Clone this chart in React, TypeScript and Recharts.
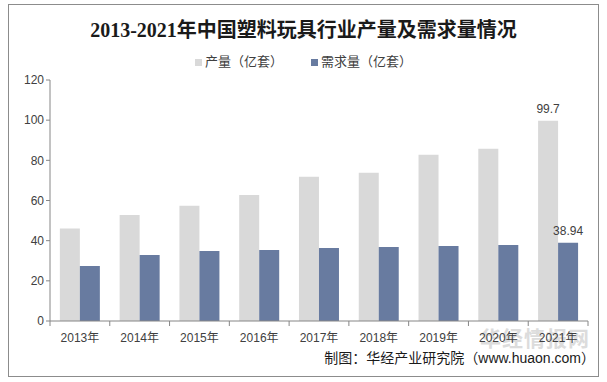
import React from 'react';
import { BarChart, Bar, XAxis, YAxis, LabelList } from 'recharts';

const years = ['2013年', '2014年', '2015年', '2016年', '2017年', '2018年', '2019年', '2020年', '2021年'];
const output = [46, 52.8, 57.4, 62.8, 71.8, 73.8, 82.8, 85.8, 99.7];
const demand = [27.4, 32.9, 34.9, 35.4, 36.4, 36.9, 37.4, 37.9, 38.94];
const yTicks = [0, 20, 40, 60, 80, 100, 120];

const data = years.map((year, i) => ({ year, output: output[i], demand: demand[i] }));

const W = 607;
const H = 382;
const margin = { top: 80, right: 19, bottom: 31, left: 10 };
const band = (W - margin.left - 40 - margin.right) / years.length;
const axisColor = '#868686';
const textColor = '#404040';
const sans = '"Liberation Sans", Arial, "Noto Sans CJK SC", sans-serif';

const XTick = (props: any) => {
  const { x, y, payload, index } = props;
  const left = x - band / 2;
  return (
    <g>
      <line x1={left} y1={y - 8} x2={left} y2={y - 3} stroke={axisColor} />
      {index === years.length - 1 && (
        <line x1={x + band / 2} y1={y - 8} x2={x + band / 2} y2={y - 3} stroke={axisColor} />
      )}
      <text x={x} y={y + 13} textAnchor="middle" fontSize={12} fill={textColor} fontFamily={sans}>
        {payload.value}
      </text>
    </g>
  );
};

const lastLabel = (props: any) => {
  const { x, y, width, value, index } = props;
  if (index !== years.length - 1) return null;
  return (
    <text x={x + width / 2} y={y - 8} textAnchor="middle" fontSize={12} fill={textColor} fontFamily={sans}>
      {value}
    </text>
  );
};

export default function App() {
  return (
    <div style={{ position: 'absolute', left: 0, top: 0, width: W, height: H, background: '#fff' }}>
      <div
        style={{
          position: 'absolute',
          left: 8,
          top: 4,
          width: 589,
          height: 371,
          border: '1px solid #8c8c8c',
        }}
      />
      <div
        style={{
          position: 'absolute',
          left: 0,
          top: 17,
          width: W,
          textAlign: 'center',
          fontSize: 20,
          fontWeight: 'bold',
          color: '#1a1a1a',
          fontFamily: '"Liberation Serif", "Noto Sans CJK SC", serif',
          lineHeight: '26px',
        }}
      >
        2013-2021年中国塑料玩具行业产量及需求量情况
      </div>
      <div
        style={{
          position: 'absolute',
          left: 0,
          top: 53,
          width: W,
          display: 'flex',
          justifyContent: 'center',
          fontSize: 13,
          lineHeight: '18px',
          color: textColor,
          fontFamily: sans,
        }}
      >
        <span style={{ display: 'flex', alignItems: 'center', marginRight: 28 }}>
          <span style={{ width: 7, height: 7, background: '#D9D9D9', marginRight: 3 }} />
          产量（亿套）
        </span>
        <span style={{ display: 'flex', alignItems: 'center' }}>
          <span style={{ width: 7, height: 7, background: '#687BA0', marginRight: 3 }} />
          需求量（亿套）
        </span>
      </div>
      <div
        style={{
          position: 'absolute',
          left: 480,
          top: 322,
          fontSize: 21,
          fontWeight: 'bold',
          color: '#dcdcdc',
          fontFamily: sans,
          letterSpacing: 1,
        }}
      >
        华经情报网
      </div>
      <BarChart
        width={W}
        height={H}
        data={data}
        margin={margin}
        barCategoryGap="16.5%"
        barGap={0}
        style={{ position: 'absolute', left: 0, top: 0 }}
      >
        <YAxis
          domain={[0, 120]}
          ticks={yTicks}
          width={40}
          tickSize={4}
          axisLine={{ stroke: axisColor }}
          tickLine={{ stroke: axisColor }}
          tick={{ fill: textColor, fontSize: 12, fontFamily: sans }}
        />
        <XAxis
          dataKey="year"
          height={30}
          axisLine={{ stroke: axisColor }}
          tickLine={false}
          tick={<XTick />}
          interval={0}
        />
        <Bar dataKey="output" name="产量（亿套）" fill="#D9D9D9" isAnimationActive={false}>
          <LabelList dataKey="output" content={lastLabel} />
        </Bar>
        <Bar dataKey="demand" name="需求量（亿套）" fill="#687BA0" isAnimationActive={false}>
          <LabelList dataKey="demand" content={lastLabel} />
        </Bar>
      </BarChart>
      <div
        style={{
          position: 'absolute',
          right: 12,
          top: 349,
          fontSize: 14,
          color: '#1a1a1a',
          fontFamily: sans,
          lineHeight: '18px',
        }}
      >
        制图：华经产业研究院（www.huaon.com）
      </div>
    </div>
  );
}
